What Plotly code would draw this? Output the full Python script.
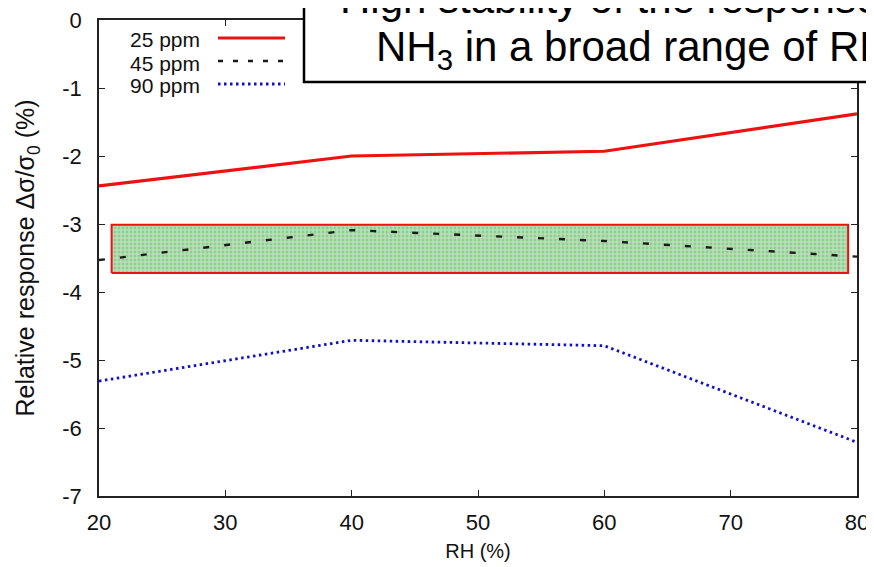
import plotly.graph_objects as go

# ---- data ----
rh = [20, 40, 60, 80]
resp_25 = [-2.44, -2.00, -1.93, -1.38]
resp_45 = [-3.53, -3.09, -3.25, -3.48]
resp_90 = [-5.31, -4.71, -4.79, -6.21]
series_names = ["25 ppm", "45 ppm", "90 ppm"]

highlight_x = [21.0, 79.3]
highlight_y = [-3.72, -3.01]

x_ticks = [20, 30, 40, 50, 60, 70, 80]
x_tick_text = ["20", "30", "40", "50", "60", "70", "80"]
y_ticks = [0, -1, -2, -3, -4, -5, -6, -7]
y_tick_text = ["0", "-1", "-2", "-3", "-4", "-5", "-6", "-7"]

title_lines = ["High stability of the response to", "NH<sub>3</sub> in a broad range of RH"]

# ---- layout geometry (screen pixels; page body adds an 8px offset) ----
W, H = 874, 567
OFF = 8
PL, PR, PT, PB = 99, 857, 20, 496          # plot frame on screen
L, T = PL - OFF, PT - OFF
R = W - (PR - OFF)
B = H - (PB - OFF)
PW = PR - PL
PH = PB - PT


def px_x(p):
    return (p - PL) / PW


def px_y(p):
    return (PB - p) / PH


FONT = "Liberation Sans, Arial, sans-serif"

fig = go.Figure()

# highlighted band (drawn below the dashed line)
hx = [highlight_x[0], highlight_x[1], highlight_x[1], highlight_x[0], highlight_x[0]]
hy = [highlight_y[0], highlight_y[0], highlight_y[1], highlight_y[1], highlight_y[0]]
fig.add_trace(go.Scatter(
    x=hx, y=hy, mode="lines", fill="toself",
    fillcolor="#9dd49d",
    fillpattern=dict(shape="+", fgcolor="rgba(255,255,255,0.9)", bgcolor="#92ce92",
                     size=4, solidity=0.45),
    line=dict(color="#ee1111", width=2),
    showlegend=False, hoverinfo="skip",
))

styles = [
    dict(color="#ee1111", width=3.2, dash="solid"),
    dict(color="#1a1a1a", width=2.4, dash="6px,15px"),
    dict(color="#1010c8", width=2.8, dash="2.5px,3.5px"),
]
for name, ys, st in zip(series_names, [resp_25, resp_45, resp_90], styles):
    fig.add_trace(go.Scatter(x=rh, y=ys, mode="lines", name=name, line=st,
                             showlegend=False))

shapes = []
annotations = []

# custom legend (text on the left, sample on the right, like gnuplot)
leg_rows = [40, 63, 86]
for name, st, yy in zip(series_names, styles, leg_rows):
    annotations.append(dict(
        xref="paper", yref="paper", x=px_x(202), y=px_y(yy),
        xanchor="right", yanchor="middle", text=name, showarrow=False,
        font=dict(family=FONT, size=21, color="#111"),
    ))
    dash = st["dash"] if st["dash"] != "6px,15px" else "5px,10px"
    shapes.append(dict(
        type="line", xref="paper", yref="paper",
        x0=px_x(218), x1=px_x(285), y0=px_y(yy - 2), y1=px_y(yy - 2),
        line=dict(color=st["color"], width=st["width"], dash=dash), layer="above",
    ))

# title box partially cut off at top/right
shapes.append(dict(
    type="rect", xref="paper", yref="paper",
    x0=px_x(304), x1=px_x(965), y0=px_y(82), y1=px_y(-80),
    line=dict(color="black", width=2.5), fillcolor="white", layer="above",
))
center_x = 633
for txt, base in zip(title_lines, [13, 63]):
    annotations.append(dict(
        xref="paper", yref="paper", x=px_x(center_x), y=px_y(base - 14),
        xanchor="center", yanchor="middle", text=txt, showarrow=False,
        font=dict(family=FONT, size=42, color="black"),
    ))

fig.update_layout(
    width=W, height=H,
    margin=dict(l=L, r=R, t=T, b=B, pad=0),
    paper_bgcolor="white", plot_bgcolor="white",
    font=dict(family=FONT, color="#111"),
    shapes=shapes, annotations=annotations,
    showlegend=False,
)
axis_common = dict(
    showgrid=False, zeroline=False, showline=True, mirror="ticks",
    linecolor="#222", linewidth=1.6, ticks="inside", ticklen=6,
    tickcolor="#222", tickwidth=1.2, automargin=False,
    ticklabeloverflow="allow",
    tickfont=dict(family=FONT, size=22, color="#111"),
)
fig.update_xaxes(range=[20, 80], tickvals=x_ticks, ticktext=x_tick_text,
                 ticklabelstandoff=6,
                 title=dict(text="RH (%)", font=dict(family=FONT, size=20, color="#111"),
                            standoff=10),
                 **axis_common)
fig.update_yaxes(range=[-7, 0], tickvals=y_ticks, ticktext=y_tick_text,
                 ticklabelstandoff=11,
                 title=dict(text="Relative response \u0394\u03c3/\u03c3<sub>0</sub> (%)",
                            font=dict(family=FONT, size=25, color="#111"), standoff=20),
                 **axis_common)

fig.write_html("out.html")
